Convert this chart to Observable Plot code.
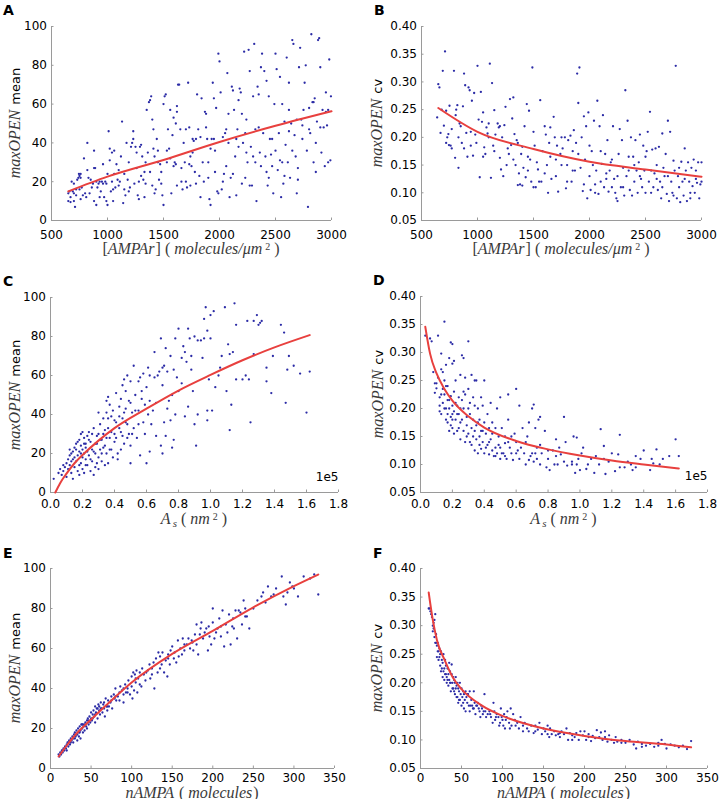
<!DOCTYPE html>
<html><head><meta charset="utf-8">
<script src="https://cdn.jsdelivr.net/npm/d3@7"></script>
<script src="https://cdn.jsdelivr.net/npm/@observablehq/plot@0.6"></script>
<style>
body{margin:0;background:#fff;}
#wrap{position:relative;width:721px;height:799px;overflow:hidden;font-family:"DejaVu Sans",sans-serif;color:#000;}
.panel{position:absolute;}
.letter{position:absolute;font:bold 14px/1 "DejaVu Sans",sans-serif;}
.ylab{position:absolute;transform:translate(-50%,-50%) rotate(-90deg);white-space:nowrap;font-size:13px;line-height:1;}
.xlab{position:absolute;transform:translate(-50%,-50%);white-space:nowrap;font-size:13px;line-height:1;}
.m{font-family:"Liberation Serif",serif;font-style:italic;font-size:16px;line-height:1;color:#3a3a3a;padding-right:1px;}
.r{font-family:"Liberation Serif",serif;font-size:16px;line-height:1;color:#3a3a3a;}
.sp{font-size:10px;font-family:"Liberation Serif",serif;color:#3a3a3a;margin-left:2px;position:relative;top:-4px;line-height:1;}
.sb{font-size:11px;font-family:"Liberation Serif",serif;font-style:italic;color:#3a3a3a;margin-left:1px;position:relative;top:3px;line-height:1;}
</style></head>
<body><div id="wrap"></div>
<script>
// ---- tick labels ----
const xTicksAMPAr = [500,1000,1500,2000,2500,3000];
const xTicksAs = [0.0,0.2,0.4,0.6,0.8,1.0,1.2,1.4,1.6,1.8];
const xTicksN = [0,50,100,150,200,250,300,350];
const yTicksMean = [0,20,40,60,80,100];
const yTicksCV = [0.05,0.10,0.15,0.20,0.25,0.30,0.35,0.40];

// ---- panel A: [AMPAr] vs maxOPEN mean ----
const ptsA = [[650,14],[650,10],[660,15],[670,9.5],[670,12],[680,20],[690,15],[700,14],[700,10],[700,19],[710,7],[720,13],[720,16],[730,21],[740,22],[745,24],[750,23],[750,16],[760,24],[760,11],[760,22],[770,17],[780,13],[790,32],[800,14],[810,12],[820,40],[820,26],[830,22],[840,14],[850,21],[860,17],[870,19],[880,36],[880,10],[880,27],[890,27],[900,20],[900,8],[910,17],[920,19],[930,12],[930,20],[940,15],[950,20],[960,29],[960,19],[970,12],[980,20],[990,10],[990,19],[1000,8],[1000,24],[1010,46],[1020,37],[1020,31],[1030,15],[1040,35],[1040,20],[1050,16],[1050,10],[1060,24],[1060,36],[1070,17],[1080,29],[1090,21],[1100,18],[1100,26],[1110,20],[1120,33],[1130,51],[1140,9],[1150,24],[1150,16],[1160,13],[1170,40],[1180,21],[1190,15],[1190,30],[1200,17],[1210,38],[1220,40],[1230,46],[1230,42],[1240,19],[1250,38],[1260,27],[1260,35],[1270,13],[1280,11],[1280,20],[1290,38],[1300,23],[1300,39],[1310,33],[1320,21],[1330,25],[1330,12],[1340,19],[1340,30],[1350,57],[1360,35],[1370,61],[1380,62],[1380,25],[1390,64],[1400,52],[1400,18],[1410,37],[1410,47],[1420,33],[1420,14],[1430,16],[1440,42],[1450,36],[1450,30],[1460,21],[1470,29],[1480,25],[1480,19],[1490,13],[1500,8],[1500,60],[1510,64],[1520,65],[1530,30],[1530,36],[1540,47],[1550,37],[1560,57],[1560,32],[1570,14],[1580,44],[1590,28],[1590,53],[1600,30],[1610,50],[1610,29],[1620,59],[1620,56],[1620,18],[1630,70],[1640,70],[1650,47],[1660,20],[1660,27],[1670,16],[1680,40],[1690,30],[1700,20],[1700,47],[1710,17],[1720,71],[1730,48],[1730,29],[1740,33],[1740,18],[1750,28],[1760,35],[1760,42],[1770,41],[1780,25],[1790,19],[1790,42],[1800,65],[1810,47],[1820,23],[1830,43],[1830,12],[1840,63],[1850,30],[1860,20],[1870,56],[1880,55],[1880,48],[1890,42],[1900,30],[1900,22],[1910,11],[1920,8],[1920,37],[1930,42],[1940,71],[1950,63],[1950,42],[1960,36],[1960,25],[1970,58],[1980,15],[1990,86],[1990,14],[2000,82],[2010,66],[2020,16],[2030,43],[2030,20],[2040,24],[2050,45],[2060,28],[2060,47],[2070,76],[2080,40],[2080,55],[2090,12],[2100,22],[2110,69],[2120,67],[2120,24],[2130,57],[2140,33],[2150,42],[2150,13],[2160,47],[2170,38],[2170,62],[2180,68],[2190,66],[2200,55],[2200,19],[2210,40],[2220,87],[2230,22],[2230,45],[2240,52],[2240,35],[2250,30],[2260,88],[2270,77],[2270,18],[2280,38],[2290,18],[2300,64],[2300,33],[2310,91],[2320,47],[2320,30],[2330,10],[2340,69],[2350,65],[2350,48],[2360,35],[2370,28],[2370,79],[2380,86],[2390,45],[2400,77],[2410,33],[2420,72],[2420,25],[2430,18],[2440,64],[2440,22],[2450,42],[2460,34],[2470,28],[2470,42],[2480,14],[2490,60],[2500,86],[2500,36],[2510,78],[2520,26],[2530,45],[2540,74],[2540,31],[2550,12],[2560,60],[2560,30],[2570,19],[2580,51],[2580,23],[2590,39],[2600,84],[2610,30],[2620,71],[2620,57],[2620,46],[2630,22],[2640,50],[2650,93],[2650,36],[2660,91],[2670,44],[2680,33],[2690,14],[2690,52],[2700,27],[2700,21],[2710,79],[2720,89],[2730,52],[2740,42],[2740,49],[2750,57],[2760,71],[2770,80],[2780,36],[2790,7],[2800,58],[2800,47],[2810,45],[2820,96],[2830,61],[2840,30],[2840,61],[2850,63],[2860,25],[2860,40],[2870,51],[2880,93],[2890,94],[2900,79],[2900,48],[2910,35],[2920,57],[2930,48],[2940,28],[2950,66],[2950,56],[2960,49],[2970,57],[2970,30],[2980,83],[2990,31],[2995,64]];
const fitA = [[650,15],[1000,22.6],[1500,31.2],[2000,40.5],[2500,48.8],[3000,56.3]];

// ---- panel B: [AMPAr] vs maxOPEN cv ----
const ptsB = [[640,0.236],[650,0.296],[660,0.290],[670,0.208],[680,0.25],[690,0.320],[700,0.221],[710,0.355],[720,0.248],[720,0.19],[730,0.200],[740,0.206],[745,0.186],[750,0.257],[760,0.185],[770,0.180],[770,0.215],[790,0.320],[800,0.163],[805,0.24],[810,0.25],[820,0.258],[830,0.145],[830,0.20],[840,0.225],[850,0.22],[860,0.19],[870,0.256],[880,0.315],[880,0.18],[890,0.294],[900,0.208],[910,0.165],[920,0.29],[930,0.285],[940,0.21],[940,0.185],[950,0.266],[960,0.167],[970,0.28],[980,0.205],[990,0.19],[1000,0.329],[1010,0.232],[1020,0.128],[1030,0.282],[1040,0.228],[1050,0.245],[1050,0.165],[1060,0.182],[1070,0.17],[1080,0.218],[1090,0.207],[1100,0.225],[1100,0.2],[1110,0.333],[1120,0.127],[1130,0.298],[1140,0.185],[1150,0.249],[1150,0.175],[1160,0.205],[1180,0.225],[1190,0.218],[1200,0.163],[1200,0.22],[1210,0.142],[1220,0.20],[1230,0.13],[1240,0.222],[1250,0.255],[1260,0.15],[1270,0.18],[1280,0.17],[1290,0.269],[1300,0.186],[1310,0.234],[1320,0.272],[1320,0.16],[1330,0.206],[1340,0.15],[1350,0.195],[1360,0.114],[1360,0.19],[1370,0.135],[1380,0.115],[1390,0.17],[1400,0.183],[1400,0.113],[1410,0.145],[1420,0.22],[1430,0.128],[1440,0.26],[1450,0.165],[1450,0.14],[1460,0.248],[1470,0.16],[1480,0.12],[1490,0.326],[1500,0.11],[1500,0.21],[1510,0.185],[1520,0.11],[1530,0.155],[1540,0.142],[1550,0.12],[1560,0.267],[1570,0.12],[1580,0.175],[1600,0.22],[1600,0.135],[1610,0.205],[1620,0.15],[1630,0.10],[1640,0.19],[1650,0.218],[1650,0.165],[1660,0.125],[1680,0.237],[1690,0.2],[1700,0.13],[1700,0.16],[1710,0.185],[1720,0.102],[1740,0.17],[1750,0.15],[1750,0.2],[1760,0.18],[1780,0.2],[1790,0.108],[1800,0.15],[1800,0.12],[1810,0.195],[1830,0.203],[1840,0.12],[1850,0.175],[1850,0.14],[1860,0.213],[1870,0.14],[1880,0.19],[1890,0.315],[1900,0.262],[1900,0.17],[1910,0.326],[1920,0.145],[1930,0.2],[1940,0.103],[1950,0.238],[1950,0.115],[1960,0.16],[1970,0.22],[1980,0.09],[1990,0.245],[2000,0.13],[2000,0.185],[2010,0.105],[2020,0.175],[2030,0.15],[2040,0.23],[2050,0.115],[2050,0.1],[2060,0.14],[2070,0.266],[2080,0.098],[2090,0.22],[2100,0.12],[2100,0.175],[2110,0.152],[2120,0.24],[2130,0.11],[2140,0.17],[2150,0.135],[2150,0.125],[2160,0.195],[2170,0.102],[2180,0.14],[2190,0.155],[2200,0.11],[2200,0.16],[2210,0.22],[2220,0.125],[2230,0.1],[2240,0.09],[2250,0.085],[2250,0.13],[2260,0.17],[2270,0.215],[2280,0.11],[2290,0.195],[2300,0.145],[2300,0.11],[2310,0.095],[2320,0.285],[2330,0.13],[2340,0.23],[2350,0.165],[2350,0.14],[2360,0.105],[2370,0.2],[2380,0.095],[2390,0.165],[2400,0.12],[2400,0.15],[2410,0.195],[2420,0.14],[2430,0.1],[2440,0.155],[2450,0.205],[2450,0.13],[2460,0.125],[2470,0.11],[2480,0.185],[2490,0.14],[2500,0.1],[2500,0.165],[2510,0.175],[2520,0.21],[2530,0.12],[2540,0.246],[2550,0.1],[2550,0.14],[2560,0.178],[2570,0.11],[2580,0.135],[2590,0.18],[2600,0.125],[2600,0.15],[2610,0.105],[2620,0.183],[2630,0.12],[2640,0.09],[2650,0.207],[2650,0.11],[2660,0.145],[2670,0.13],[2680,0.17],[2690,0.098],[2700,0.23],[2700,0.13],[2710,0.085],[2720,0.21],[2730,0.12],[2740,0.1],[2750,0.158],[2750,0.095],[2760,0.14],[2770,0.329],[2780,0.09],[2790,0.13],[2800,0.11],[2800,0.145],[2810,0.083],[2820,0.156],[2830,0.12],[2840,0.095],[2850,0.18],[2850,0.125],[2860,0.14],[2870,0.085],[2880,0.155],[2890,0.12],[2900,0.09],[2900,0.1],[2910,0.145],[2920,0.112],[2930,0.16],[2940,0.1],[2950,0.125],[2950,0.14],[2960,0.118],[2970,0.155],[2980,0.09],[2990,0.115],[3000,0.155],[3000,0.12]];
const fitB = [[650,0.253],[1000,0.210],[1500,0.179],[2000,0.156],[2500,0.142],[3000,0.129]];

// ---- panel C: A_s (1e5 nm^2) vs maxOPEN mean ----
const ptsC = [[0.02,7],[0.05,10],[0.06,12],[0.07,9],[0.08,14],[0.08,11],[0.09,13],[0.1,15],[0.1,8],[0.11,17],[0.11,12],[0.12,19],[0.12,14],[0.12,22],[0.13,16],[0.13,10],[0.13,20],[0.14,21],[0.14,7],[0.14,17],[0.15,18],[0.15,13],[0.15,23],[0.16,22],[0.16,16],[0.16,25],[0.17,11],[0.17,19],[0.17,26],[0.18,27],[0.18,21],[0.18,9],[0.18,14],[0.19,30],[0.19,24],[0.19,15],[0.19,20],[0.2,31],[0.2,22],[0.2,18],[0.2,12],[0.21,28],[0.21,20],[0.21,10],[0.21,25],[0.22,25],[0.22,17],[0.22,23],[0.22,14],[0.23,29],[0.23,14],[0.23,21],[0.24,31],[0.24,19],[0.24,27],[0.25,26],[0.25,11],[0.25,17],[0.26,22],[0.26,16],[0.26,30],[0.27,33],[0.27,9],[0.27,21],[0.28,20],[0.28,13],[0.28,25],[0.29,25],[0.29,29],[0.29,15],[0.3,41],[0.3,18],[0.3,12],[0.3,30],[0.31,35],[0.31,22],[0.31,27],[0.32,27],[0.32,16],[0.32,20],[0.33,38],[0.33,30],[0.33,23],[0.34,24],[0.34,14],[0.34,32],[0.35,47],[0.35,41],[0.35,20],[0.35,28],[0.36,49],[0.36,33],[0.36,15],[0.36,38],[0.37,45],[0.37,28],[0.37,22],[0.38,39],[0.38,22],[0.38,31],[0.39,18],[0.39,42],[0.4,30],[0.4,26],[0.4,37],[0.41,51],[0.41,36],[0.41,28],[0.42,20],[0.42,17],[0.43,44],[0.43,33],[0.43,39],[0.44,48],[0.44,22],[0.44,31],[0.45,55],[0.45,38],[0.45,29],[0.46,58],[0.46,25],[0.46,41],[0.47,52],[0.47,43],[0.47,36],[0.48,60],[0.48,35],[0.48,28],[0.49,47],[0.49,30],[0.5,57],[0.5,15],[0.5,24],[0.5,46],[0.51,41],[0.51,30],[0.52,65],[0.52,33],[0.53,50],[0.53,42],[0.54,28],[0.55,57],[0.55,42],[0.55,35],[0.56,59],[0.56,19],[0.57,48],[0.57,52],[0.58,36],[0.58,61],[0.59,30],[0.59,45],[0.6,54],[0.6,15],[0.61,64],[0.61,40],[0.62,47],[0.62,21],[0.62,60],[0.63,35],[0.64,42],[0.65,72],[0.65,59],[0.66,29],[0.66,46],[0.67,60],[0.68,62],[0.69,79],[0.69,24],[0.7,20],[0.7,55],[0.7,64],[0.71,65],[0.71,36],[0.72,74],[0.72,29],[0.73,62],[0.73,43],[0.74,47],[0.75,70],[0.75,37],[0.76,50],[0.76,23],[0.77,27],[0.77,63],[0.78,79],[0.78,40],[0.79,59],[0.8,84],[0.8,52],[0.82,69],[0.82,56],[0.83,75],[0.84,39],[0.84,72],[0.85,67],[0.86,84],[0.86,44],[0.87,79],[0.88,63],[0.88,70],[0.89,52],[0.9,80],[0.9,35],[0.91,24],[0.92,40],[0.92,78],[0.94,78],[0.95,69],[0.96,79],[0.96,89],[0.97,95],[0.98,83],[0.98,42],[0.98,37],[0.99,58],[1.0,91],[1.0,79],[1.01,42],[1.02,93],[1.03,54],[1.05,60],[1.06,64],[1.07,70],[1.09,95],[1.1,52],[1.11,76],[1.12,71],[1.12,32],[1.13,45],[1.14,72],[1.15,97],[1.16,86],[1.16,58],[1.2,58],[1.22,60],[1.23,88],[1.24,58],[1.25,36],[1.27,88],[1.27,71],[1.29,91],[1.3,86],[1.31,87],[1.32,88],[1.35,64],[1.35,57],[1.38,51],[1.39,70],[1.44,86],[1.46,82],[1.47,46],[1.48,63],[1.49,70],[1.52,65],[1.56,61],[1.6,41],[1.62,62]];
const fitC = [[0.03,0],[0.06,4.8],[0.1,9.7],[0.15,15],[0.2,19.2],[0.3,26.6],[0.4,33],[0.6,43],[0.8,52.3],[1.0,60.3],[1.2,67.8],[1.4,74.4],[1.62,80.7]];

// ---- panel D: A_s (1e5 nm^2) vs maxOPEN cv ----
const ptsD = [[0.03,0.33],[0.06,0.325],[0.07,0.32],[0.08,0.265],[0.09,0.228],[0.09,0.245],[0.1,0.236],[0.1,0.245],[0.11,0.33],[0.11,0.255],[0.12,0.22],[0.12,0.195],[0.12,0.205],[0.13,0.298],[0.13,0.27],[0.13,0.19],[0.13,0.225],[0.14,0.265],[0.14,0.235],[0.14,0.21],[0.15,0.355],[0.15,0.25],[0.15,0.225],[0.15,0.2],[0.16,0.2],[0.16,0.18],[0.16,0.278],[0.16,0.24],[0.17,0.24],[0.17,0.175],[0.17,0.215],[0.17,0.19],[0.18,0.29],[0.18,0.2],[0.18,0.16],[0.18,0.215],[0.19,0.318],[0.19,0.222],[0.19,0.185],[0.19,0.17],[0.2,0.315],[0.2,0.28],[0.2,0.205],[0.2,0.19],[0.2,0.165],[0.2,0.18],[0.21,0.285],[0.21,0.23],[0.21,0.195],[0.21,0.155],[0.22,0.25],[0.22,0.18],[0.22,0.21],[0.23,0.205],[0.23,0.16],[0.23,0.19],[0.24,0.22],[0.24,0.19],[0.24,0.165],[0.25,0.26],[0.25,0.175],[0.25,0.145],[0.25,0.2],[0.26,0.295],[0.26,0.215],[0.26,0.18],[0.27,0.29],[0.27,0.2],[0.27,0.16],[0.27,0.23],[0.28,0.255],[0.28,0.225],[0.28,0.14],[0.29,0.185],[0.29,0.17],[0.29,0.15],[0.3,0.32],[0.3,0.235],[0.3,0.155],[0.3,0.2],[0.31,0.21],[0.31,0.19],[0.31,0.14],[0.32,0.26],[0.32,0.135],[0.32,0.165],[0.33,0.18],[0.33,0.15],[0.33,0.22],[0.34,0.25],[0.34,0.205],[0.34,0.125],[0.34,0.16],[0.35,0.25],[0.35,0.17],[0.35,0.145],[0.36,0.2],[0.36,0.12],[0.36,0.175],[0.37,0.15],[0.37,0.135],[0.37,0.18],[0.38,0.22],[0.38,0.16],[0.38,0.128],[0.39,0.205],[0.39,0.14],[0.39,0.16],[0.4,0.25],[0.4,0.175],[0.4,0.12],[0.41,0.155],[0.41,0.13],[0.42,0.19],[0.42,0.135],[0.43,0.165],[0.43,0.118],[0.43,0.14],[0.44,0.21],[0.44,0.145],[0.45,0.125],[0.45,0.175],[0.45,0.155],[0.46,0.115],[0.47,0.165],[0.47,0.13],[0.47,0.115],[0.48,0.2],[0.48,0.12],[0.49,0.15],[0.49,0.135],[0.5,0.22],[0.5,0.13],[0.5,0.11],[0.51,0.165],[0.51,0.12],[0.52,0.12],[0.53,0.15],[0.53,0.138],[0.53,0.115],[0.54,0.11],[0.55,0.225],[0.55,0.18],[0.55,0.14],[0.56,0.13],[0.57,0.12],[0.57,0.15],[0.58,0.108],[0.59,0.155],[0.6,0.235],[0.6,0.14],[0.6,0.12],[0.61,0.125],[0.62,0.205],[0.62,0.11],[0.63,0.13],[0.64,0.165],[0.65,0.12],[0.66,0.1],[0.66,0.14],[0.67,0.15],[0.68,0.175],[0.68,0.108],[0.69,0.115],[0.7,0.2],[0.7,0.12],[0.71,0.207],[0.71,0.105],[0.72,0.165],[0.72,0.12],[0.73,0.13],[0.73,0.11],[0.74,0.18],[0.75,0.185],[0.75,0.1],[0.75,0.135],[0.76,0.12],[0.78,0.16],[0.79,0.095],[0.8,0.125],[0.8,0.11],[0.81,0.09],[0.83,0.125],[0.84,0.1],[0.85,0.145],[0.85,0.115],[0.86,0.1],[0.87,0.13],[0.88,0.118],[0.9,0.185],[0.9,0.105],[0.91,0.14],[0.92,0.098],[0.95,0.105],[0.95,0.1],[0.96,0.15],[0.97,0.085],[0.98,0.148],[0.98,0.1],[0.99,0.11],[1.0,0.09],[1.01,0.12],[1.02,0.13],[1.04,0.092],[1.05,0.1],[1.07,0.11],[1.09,0.085],[1.1,0.115],[1.12,0.1],[1.13,0.163],[1.15,0.133],[1.15,0.11],[1.16,0.083],[1.18,0.105],[1.2,0.12],[1.22,0.088],[1.24,0.118],[1.25,0.153],[1.25,0.095],[1.28,0.095],[1.3,0.105],[1.32,0.1],[1.33,0.09],[1.35,0.115],[1.35,0.095],[1.38,0.11],[1.4,0.125],[1.44,0.09],[1.45,0.11],[1.46,0.102],[1.48,0.127],[1.5,0.1],[1.52,0.11],[1.56,0.115],[1.6,0.145],[1.62,0.115]];
const fitD = [[0.03,0.346],[0.06,0.298],[0.1,0.263],[0.15,0.235],[0.2,0.214],[0.3,0.186],[0.4,0.166],[0.6,0.142],[0.8,0.127],[1.0,0.116],[1.2,0.107],[1.4,0.1],[1.62,0.093]];

// ---- panel E: nAMPA vs maxOPEN mean ----
const ptsE = [[10,7],[11,6],[12,8],[13,7],[14,9],[15,8],[15,9],[16,10],[17,9],[18,11],[19,10],[20,12],[20,9],[21,13],[22,11],[22,13],[23,14],[24,12],[25,15],[25,13],[26,14],[27,16],[28,13],[28,15],[29,17],[30,15],[30,18],[31,16],[32,19],[32,17],[33,17],[33,14],[34,20],[35,18],[35,16],[36,21],[36,18],[37,19],[37,15],[38,22],[39,20],[39,22],[40,18],[40,22],[41,21],[42,19],[42,22],[43,23],[44,21],[45,24],[45,20],[46,25],[47,22],[47,24],[48,26],[49,23],[50,25],[50,28],[51,24],[52,27],[52,25],[53,29],[54,26],[55,31],[55,23],[55,27],[56,28],[57,30],[58,25],[58,30],[59,32],[60,29],[60,31],[61,27],[62,33],[62,30],[63,30],[64,28],[65,32],[66,30],[66,33],[67,26],[68,35],[69,31],[70,29],[70,31],[71,34],[72,31],[74,33],[75,36],[75,34],[76,30],[78,37],[79,35],[80,40],[80,36],[81,34],[83,36],[85,38],[85,34],[86,41],[88,39],[90,37],[90,33],[90,40],[92,42],[93,38],[95,40],[95,38],[96,44],[98,37],[100,46],[100,41],[101,35],[102,48],[103,39],[104,47],[105,43],[105,45],[106,49],[107,38],[108,45],[110,42],[110,48],[112,41],[113,50],[115,47],[117,44],[118,48],[120,49],[122,52],[123,45],[125,50],[125,47],[127,53],[128,40],[130,55],[132,48],[133,58],[135,56],[135,50],[137,52],[138,58],[140,48],[142,54],[144,46],[145,57],[145,55],[147,52],[148,59],[150,61],[152,55],[153,58],[155,53],[157,64],[158,56],[160,60],[162,57],[163,65],[165,59],[165,62],[168,62],[170,65],[172,60],[174,64],[175,63],[176,59],[178,67],[180,72],[180,62],[182,57],[184,67],[185,70],[186,73],[188,65],[190,68],[192,70],[194,59],[195,71],[196,66],[198,62],[200,73],[200,80],[202,65],[204,68],[206,70],[208,75],[210,71],[210,66],[212,79],[214,61],[216,72],[218,68],[220,77],[222,62],[224,71],[225,75],[226,70],[228,79],[230,65],[232,79],[234,78],[236,72],[238,84],[240,80],[240,76],[242,76],[245,70],[250,80],[255,84],[260,86],[262,88],[265,83],[268,91],[272,86],[275,87],[278,90],[285,96],[287,86],[290,82],[292,88],[295,93],[298,91],[300,90],[305,86],[312,96],[320,95],[325,97],[330,87]];
const fitE = [[10,6],[20,11.5],[30,16.5],[50,24.5],[75,34],[100,43],[150,57.3],[200,68.8],[250,80.6],[300,91.2],[330,97]];

// ---- panel F: nAMPA vs maxOPEN cv ----
const ptsF = [[10,0.33],[11,0.33],[12,0.325],[13,0.32],[14,0.315],[15,0.3],[15,0.29],[16,0.295],[16,0.305],[17,0.28],[17,0.31],[18,0.27],[18,0.32],[19,0.285],[19,0.27],[20,0.265],[20,0.245],[21,0.27],[21,0.255],[22,0.255],[22,0.24],[23,0.26],[23,0.245],[24,0.25],[24,0.23],[25,0.255],[25,0.22],[26,0.24],[26,0.225],[27,0.235],[27,0.21],[28,0.25],[28,0.22],[29,0.225],[29,0.205],[30,0.215],[30,0.24],[31,0.23],[31,0.215],[32,0.21],[32,0.2],[33,0.225],[33,0.205],[34,0.215],[34,0.195],[35,0.235],[35,0.205],[36,0.22],[36,0.2],[37,0.2],[37,0.185],[38,0.215],[38,0.232],[39,0.2],[39,0.19],[40,0.21],[40,0.19],[41,0.205],[41,0.185],[42,0.18],[42,0.2],[43,0.21],[43,0.19],[44,0.195],[44,0.175],[45,0.2],[45,0.175],[46,0.19],[46,0.165],[47,0.185],[47,0.17],[48,0.2],[48,0.17],[49,0.18],[50,0.19],[50,0.16],[51,0.175],[52,0.185],[52,0.165],[53,0.155],[53,0.18],[54,0.17],[55,0.185],[55,0.15],[56,0.175],[57,0.165],[57,0.18],[58,0.18],[59,0.16],[60,0.185],[60,0.15],[61,0.16],[62,0.17],[63,0.16],[64,0.155],[65,0.185],[65,0.155],[66,0.165],[67,0.145],[68,0.16],[69,0.16],[70,0.165],[71,0.155],[72,0.15],[73,0.14],[74,0.16],[75,0.155],[76,0.145],[77,0.15],[78,0.18],[79,0.15],[80,0.14],[82,0.145],[84,0.15],[85,0.145],[86,0.14],[88,0.13],[89,0.165],[90,0.15],[91,0.135],[92,0.14],[93,0.145],[95,0.14],[96,0.125],[97,0.13],[98,0.155],[99,0.14],[100,0.135],[101,0.125],[102,0.145],[103,0.12],[104,0.135],[105,0.14],[106,0.15],[108,0.13],[109,0.12],[110,0.155],[111,0.125],[113,0.145],[115,0.135],[116,0.125],[118,0.13],[120,0.12],[122,0.14],[125,0.125],[125,0.115],[127,0.13],[130,0.12],[132,0.115],[135,0.125],[138,0.112],[140,0.125],[140,0.115],[143,0.118],[145,0.13],[148,0.11],[150,0.12],[152,0.115],[155,0.125],[155,0.11],[157,0.105],[158,0.12],[160,0.11],[163,0.115],[165,0.108],[168,0.11],[170,0.105],[170,0.112],[172,0.115],[175,0.11],[178,0.12],[180,0.1],[182,0.112],[185,0.108],[185,0.1],[188,0.105],[190,0.112],[193,0.1],[195,0.115],[198,0.108],[200,0.115],[202,0.1],[205,0.11],[205,0.105],[208,0.098],[210,0.107],[213,0.103],[215,0.117],[218,0.105],[220,0.113],[222,0.1],[225,0.115],[225,0.105],[228,0.097],[230,0.108],[233,0.1],[236,0.095],[238,0.105],[240,0.097],[245,0.1],[245,0.095],[250,0.095],[255,0.1],[260,0.092],[263,0.085],[265,0.097],[270,0.093],[270,0.088],[275,0.09],[280,0.093],[285,0.088],[290,0.095],[290,0.09],[294,0.1],[298,0.093],[300,0.085],[305,0.092],[310,0.09],[315,0.087],[320,0.09],[325,0.084],[330,0.098]];
const fitF = [[10,0.358],[15,0.31],[20,0.275],[30,0.238],[40,0.208],[50,0.189],[75,0.16],[100,0.142],[150,0.12],[200,0.107],[250,0.098],[300,0.092],[330,0.087]];

// ---- text ----
const yLabMean = '<span class="m">maxOPEN</span> mean';
const yLabCV = '<span class="m">maxOPEN</span> cv';
const xLabAMPAr = '<span class="r">[</span><span class="m">AMPAr</span><span class="r">] ( </span><span class="m">molecules/μm</span><span class="sp">2</span><span class="r"> )</span>';
const xLabAs = '<span class="m">A</span><span class="sb">s</span><span class="r"> ( </span><span class="m">nm</span><span class="sp">2</span><span class="r"> )</span>';
const xLabN = '<span class="m">nAMPA</span><span class="r"> ( </span><span class="m">molecules</span><span class="r">)</span>';

const BLUE = "#2b2ba6", RED = "#e8403e", SPINE = "#9a9a9a";

const panels = [
  {letter:"A", pts:ptsA, fit:fitA, xd:[500,3000], yd:[0,100], xt:xTicksAMPAr, yt:yTicksMean, xf:d3.format("d"), yf:d3.format("d"), xl:xLabAMPAr, yl:yLabMean,
   left:0, top:0, w:360, h:260, ml:51, mr:29, mt:26, mb:40, lx:3, ly:2.5, ylx:15, xly:249, tp:12},
  {letter:"B", pts:ptsB, fit:fitB, xd:[500,3000], yd:[0.05,0.40], xt:xTicksAMPAr, yt:yTicksCV, xf:d3.format("d"), yf:d3.format(".2f"), xl:xLabAMPAr, yl:yLabCV,
   left:360, top:0, w:361, h:260, ml:61, mr:20, mt:26, mb:40, lx:374, ly:2.5, ylx:377, xly:249, tp:12},
  {letter:"C", pts:ptsC, fit:fitC, xd:[0,1.8], yd:[0,100], xt:xTicksAs, yt:yTicksMean, xf:d3.format(".1f"), yf:d3.format("d"), xl:xLabAs, yl:yLabMean,
   left:0, top:260, w:360, h:265, ml:50, mr:22, mt:37, mb:33, lx:3, ly:273.5, ylx:15, xly:519, off:-12, tp:9},
  {letter:"D", pts:ptsD, fit:fitD, xd:[0,1.8], yd:[0.05,0.40], xt:xTicksAs, yt:yTicksCV, xf:d3.format(".1f"), yf:d3.format(".2f"), xl:xLabAs, yl:yLabCV,
   left:360, top:260, w:361, h:265, ml:60, mr:14, mt:36, mb:33, lx:373, ly:272.5, ylx:378, xly:519, off:-13, tp:9},
  {letter:"E", pts:ptsE, fit:fitE, xd:[0,350], yd:[0,100], xt:xTicksN, yt:yTicksMean, xf:d3.format("d"), yf:d3.format("d"), xl:xLabN, yl:yLabMean,
   left:0, top:525, w:360, h:274, ml:50, mr:26, mt:43, mb:31, lx:3, ly:545.5, ylx:15, xly:792.5, tp:7.5},
  {letter:"F", pts:ptsF, fit:fitF, xd:[0,350], yd:[0.05,0.40], xt:xTicksN, yt:yTicksCV, xf:d3.format("d"), yf:d3.format(".2f"), xl:xLabN, yl:yLabCV,
   left:360, top:525, w:361, h:274, ml:60, mr:14, mt:43, mb:31, lx:373, ly:545.5, ylx:377, xly:792.5, tp:7.5}
];

const wrap = document.getElementById("wrap");
for (const p of panels) {
  const marks = [
    Plot.ruleX([p.xd[0]], {stroke: SPINE, strokeWidth: 1}),
    Plot.ruleY([p.yd[0]], {stroke: SPINE, strokeWidth: 1}),
    Plot.axisX(p.xt, {tickSize: -2.5, tickPadding: p.tp, stroke: SPINE, tickFormat: p.xf, fontSize: 12, fill: "#000", label: null}),
    Plot.axisY(p.yt, {tickSize: -2.5, tickPadding: 7, stroke: SPINE, tickFormat: p.yf, fontSize: 12, fill: "#000", label: null}),
    Plot.dot(p.pts, {x: d => d[0], y: d => d[1], r: 1.15, fill: BLUE, stroke: null}),
    Plot.line(p.fit, {x: d => d[0], y: d => d[1], stroke: RED, strokeWidth: 2, curve: "monotone-x"})
  ];
  if (p.off !== undefined) marks.push(Plot.text(["1e5"], {frameAnchor: "bottom-right", text: d => d, dy: p.off, fontSize: 12, fill: "#000", textAnchor: "end"}));
  const svg = Plot.plot({
    width: p.w, height: p.h,
    marginLeft: p.ml, marginRight: p.mr, marginTop: p.mt, marginBottom: p.mb,
    style: {fontFamily: "DejaVu Sans", fontSize: "12px", background: "transparent", overflow: "visible"},
    x: {domain: p.xd, label: null},
    y: {domain: p.yd, label: null},
    marks
  });
  const div = document.createElement("div");
  div.className = "panel";
  div.style.left = p.left + "px"; div.style.top = p.top + "px";
  div.appendChild(svg);
  wrap.appendChild(div);

  const L = document.createElement("div");
  L.className = "letter"; L.textContent = p.letter;
  L.style.left = p.lx + "px"; L.style.top = p.ly + "px";
  wrap.appendChild(L);

  const yl = document.createElement("div");
  yl.className = "ylab"; yl.innerHTML = p.yl;
  yl.style.left = p.ylx + "px";
  yl.style.top = (p.top + p.mt + (p.h - p.mt - p.mb) / 2) + "px";
  wrap.appendChild(yl);

  const xl = document.createElement("div");
  xl.className = "xlab"; xl.innerHTML = p.xl;
  xl.style.left = (p.left + p.ml + (p.w - p.ml - p.mr) / 2) + "px";
  xl.style.top = p.xly + "px";
  wrap.appendChild(xl);
}
</script>
</body></html>
